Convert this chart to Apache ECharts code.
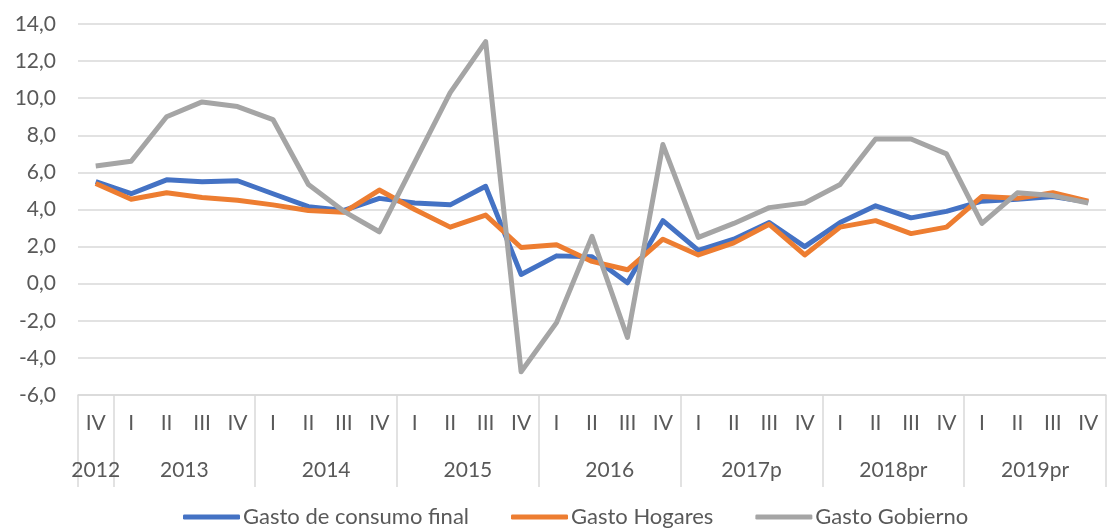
<!DOCTYPE html>
<html>
<head>
<meta charset="utf-8">
<script src="https://cdn.jsdelivr.net/npm/echarts@6/dist/echarts.min.js"></script>
<style>
html,body{margin:0;padding:0;background:#fff;}
#c{width:1109px;height:532px;}
</style>
</head>
<body>
<div id="c"></div>
<script>
const quarters = ['IV','I','II','III','IV','I','II','III','IV','I','II','III','IV','I','II','III','IV','I','II','III','IV','I','II','III','IV','I','II','III','IV'];
const years = ['2012','2013','2014','2015','2016','2017p','2018pr','2019pr'];
const quartersPerYear = [1,4,4,4,4,4,4,4];
const yTicks = {min:-6, max:14, interval:2};

const gastoConsumoFinal = [5.5,4.85,5.6,5.5,5.55,4.85,4.15,3.95,4.6,4.35,4.25,5.25,0.5,1.5,1.45,0.05,3.4,1.8,2.4,3.3,2.0,3.3,4.2,3.55,3.9,4.45,4.55,4.7,4.4];
const gastoHogares = [5.4,4.55,4.9,4.65,4.5,4.25,3.95,3.85,5.05,4.0,3.05,3.7,1.95,2.1,1.2,0.75,2.4,1.55,2.2,3.2,1.55,3.05,3.4,2.7,3.05,4.7,4.6,4.9,4.45];
const gastoGobierno = [6.35,6.6,9.0,9.8,9.55,8.85,5.35,3.9,2.8,6.55,10.3,13.05,-4.75,-2.1,2.55,-2.9,7.5,2.5,3.25,4.1,4.35,5.35,7.8,7.8,7.0,3.25,4.9,4.75,4.35];

const yearStarts = [];
const yearCentres = {};
(function(){
  let s = 0;
  quartersPerYear.forEach((n,i)=>{ yearStarts.push(s); yearCentres[(s + n/2).toFixed(2)] = years[i]; s += n; });
})();

const FONT = 'Lato, "Open Sans", sans-serif';
const TXT = '#595959';
const GRIDC = '#d9d9d9';

const chart = echarts.init(document.getElementById('c'), null, {renderer:'canvas'});
chart.setOption({
  animation:false,
  backgroundColor:'#fff',
  textStyle:{fontFamily:FONT},
  grid:{left:78, top:24, width:1035, bottom:137, containLabel:false},
  legend:{
    bottom:-1, left:178,
    icon:'roundRect', itemWidth:57, itemHeight:5, itemGap:42,
    textStyle:{fontFamily:FONT, fontSize:22, color:TXT, padding:[0,0,0,-2]},
    data:['Gasto de consumo final','Gasto Hogares','Gasto Gobierno']
  },
  xAxis:[{
    type:'category', data:quarters, boundaryGap:true, position:'bottom',
    axisLine:{show:true, onZero:false, lineStyle:{color:GRIDC, width:1.5}},
    axisTick:{show:true, length:92, inside:false, lineStyle:{color:GRIDC, width:1.5},
      interval:(i)=> yearStarts.indexOf(i) >= 0},
    axisLabel:{interval:0, color:TXT, fontSize:21, fontFamily:FONT, margin:18},
    splitLine:{show:false}
  },{
    type:'value', min:0, max:quarters.length, interval:0.5, position:'bottom', offset:0,
    axisLine:{show:false, onZero:false}, axisTick:{show:false}, splitLine:{show:false},
    axisLabel:{color:TXT, fontSize:21, fontFamily:FONT, margin:65, showMinLabel:true, showMaxLabel:true,
      formatter:(v)=> yearCentres[v.toFixed(2)] || ''}
  }],
  yAxis:{
    type:'value', min:yTicks.min, max:yTicks.max, interval:yTicks.interval,
    axisLine:{show:false}, axisTick:{show:false},
    axisLabel:{color:TXT, fontSize:21, fontFamily:FONT, margin:22,
      formatter:(v)=> v.toFixed(1).replace('.',',')},
    splitLine:{lineStyle:{color:GRIDC, width:1.5}}
  },
  series:[
    {name:'Gasto de consumo final', type:'line', data:gastoConsumoFinal, showSymbol:false, symbol:'none',
      lineStyle:{width:5, color:'#4472C4', join:'round'}, itemStyle:{color:'#4472C4'}},
    {name:'Gasto Hogares', type:'line', data:gastoHogares, showSymbol:false, symbol:'none',
      lineStyle:{width:5, color:'#ED7D31', join:'round'}, itemStyle:{color:'#ED7D31'}},
    {name:'Gasto Gobierno', type:'line', data:gastoGobierno, showSymbol:false, symbol:'none',
      lineStyle:{width:5, color:'#A5A5A5', join:'round'}, itemStyle:{color:'#A5A5A5'}}
  ]
});
</script>
</body>
</html>
